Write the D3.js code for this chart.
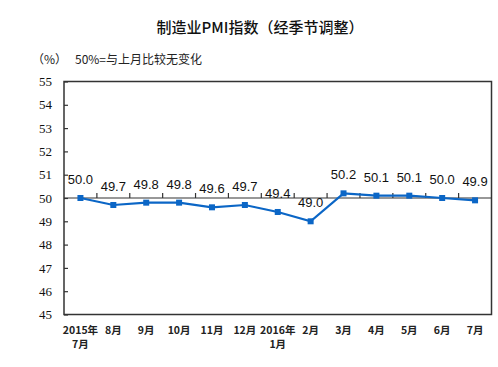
<!DOCTYPE html>
<html><head><meta charset="utf-8">
<script src="https://cdn.jsdelivr.net/npm/d3@7/dist/d3.min.js"></script>
<style>body{margin:0;background:#fff}svg{display:block}</style>
</head><body>
<script>
const categories = ["2015年\n7月","8月","9月","10月","11月","12月","2016年\n1月","2月","3月","4月","5月","6月","7月"];
const values = [50.0,49.7,49.8,49.8,49.6,49.7,49.4,49.0,50.2,50.1,50.1,50.0,49.9];
const yTicks = [45,46,47,48,49,50,51,52,53,54,55];
const title = "制造业PMI指数（经季节调整）";
const unitLabel = "（%）";
const note = "50%=与上月比较无变化";

const W = 498, H = 367;
const m = {left:64, right:491.5, top:81.5, bottom:314.5};
const svg = d3.select("body").append("svg").attr("width", W).attr("height", H);

const x = d3.scaleBand().domain(categories).range([m.left, m.right]).padding(0);
const y = d3.scaleLinear().domain([45,55]).range([m.bottom, m.top]);
const color = "#0b66c6";

svg.append("text").attr("x", 260).attr("y", 33).attr("text-anchor","middle")
  .attr("font-family","'Noto Sans CJK SC'").attr("font-size",15).attr("font-weight",500).attr("fill","#111").text(title);
svg.append("text").attr("x", 32).attr("y", 64).attr("font-family","'Noto Sans CJK SC'").attr("font-size",12).attr("fill","#222").text(unitLabel);
svg.append("text").attr("x", 75).attr("y", 64).attr("font-family","'Noto Sans CJK SC'").attr("font-size",12).attr("fill","#222").text(note);

// frame
svg.append("rect").attr("x", m.left).attr("y", m.top).attr("width", m.right-m.left).attr("height", m.bottom-m.top)
  .attr("fill","none").attr("stroke","#333").attr("stroke-width",1.5);

// y axis
const yAxis = d3.axisLeft(y).tickValues(yTicks).tickSize(-4).tickPadding(12).tickFormat(d3.format("d"));
const gy = svg.append("g").attr("transform",`translate(${m.left},0)`).call(yAxis);
gy.select(".domain").remove();
gy.selectAll("line").attr("stroke","#333").attr("stroke-width",1.2);
gy.selectAll("text").attr("font-family","'Liberation Serif', 'Times New Roman', serif").attr("font-size",13).attr("fill","#111");

// x axis line at 50
const boundaries = categories.slice(1).map(c => x(c));
svg.append("line").attr("x1", m.left).attr("x2", m.right).attr("y1", y(50)).attr("y2", y(50)).attr("stroke","#333").attr("stroke-width",1.2);
svg.selectAll(".xt").data(boundaries).enter().append("line")
  .attr("x1", d=>d).attr("x2", d=>d).attr("y1", y(50)).attr("y2", y(50)-5).attr("stroke","#333").attr("stroke-width",1.2);

// x labels
const xl = svg.selectAll(".xl").data(categories).enter().append("text")
  .attr("text-anchor","middle").attr("font-family","'Noto Sans CJK SC'").attr("font-size",10.5).attr("font-weight",700).attr("fill","#222");
xl.each(function(d){
  const lines = d.split("\n");
  const t = d3.select(this);
  lines.forEach((l,i)=>{
    t.append("tspan").attr("x", x(d)+x.bandwidth()/2).attr("y", 334 + i*14).text(l);
  });
});

// line
const line = d3.line().x((d,i)=>x(categories[i])+x.bandwidth()/2).y(d=>y(d));
svg.append("path").datum(values).attr("d", line).attr("fill","none").attr("stroke",color).attr("stroke-width",2.2);
svg.selectAll(".pt").data(values).enter().append("rect")
  .attr("x",(d,i)=>x(categories[i])+x.bandwidth()/2-3).attr("y",d=>y(d)-3).attr("width",6).attr("height",6).attr("fill",color);

// data labels
svg.selectAll(".dl").data(values).enter().append("text")
  .attr("x",(d,i)=>x(categories[i])+x.bandwidth()/2).attr("y",d=>y(d)-14)
  .attr("text-anchor","middle").attr("font-family","'Liberation Sans', Arial, sans-serif").attr("font-size",13).attr("fill","#111")
  .text(d=>d.toFixed(1));
</script>
</body></html>
